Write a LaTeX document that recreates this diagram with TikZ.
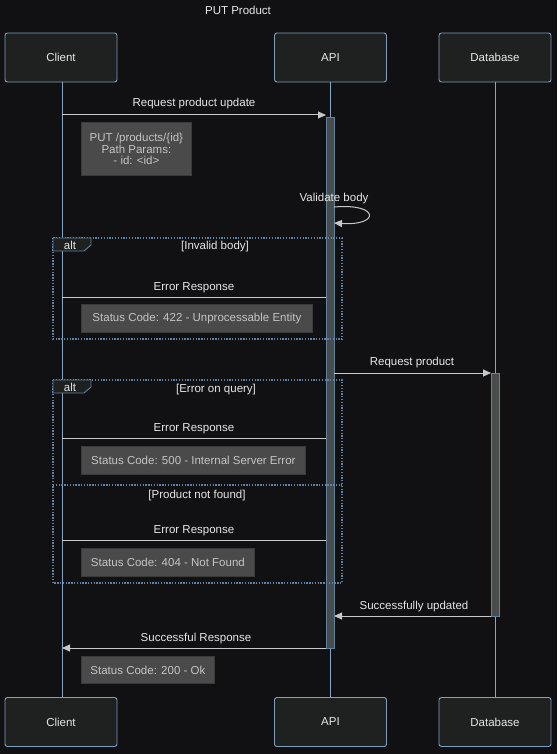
\documentclass[tikz,border=0pt]{standalone}
\usepackage{fontspec}
\setmainfont{Liberation Sans}
\usetikzlibrary{arrows.meta}
\definecolor{bg}{HTML}{111113}
\definecolor{actorfill}{HTML}{1F2020}
\definecolor{actorline}{HTML}{7F9FBF}
\definecolor{lifeline}{HTML}{86A6C6}
\definecolor{framecol}{HTML}{5F83A5}
\definecolor{actfill}{HTML}{4A4B4B}
\definecolor{notefill}{HTML}{4A4A4A}
\definecolor{noteline}{HTML}{3A3A3A}
\definecolor{notetext}{HTML}{C4C4C4}
\definecolor{msgcol}{HTML}{C8C8C8}
\definecolor{txt}{HTML}{E6E6E6}
\begin{document}
\begin{tikzpicture}[x=1pt,y=-1pt,
  every node/.style={font=\fontsize{11.5}{13.5}\selectfont, text=txt},
  actor/.style={draw=actorline, fill=actorfill, rounded corners=2.5pt, line width=0.9pt,
    minimum width=112pt, minimum height=49pt, inner sep=0pt},
  life/.style={draw=lifeline, line width=0.9pt},
  actbar/.style={draw=framecol, fill=actfill, line width=0.8pt},
  msg/.style={draw=msgcol, line width=1pt, -{Triangle[length=8pt,width=7pt]}},
  reply/.style={draw=msgcol, line width=1pt},
  msglabel/.style={inner sep=0pt, anchor=base},
  note/.style={draw=noteline, fill=notefill, line width=0.8pt, text=notetext, align=center,
    inner sep=0pt, anchor=north west},
  frame/.style={draw=framecol, line width=1.1pt, dash pattern=on 1.3pt off 1.5pt},
  guard/.style={inner sep=0pt, anchor=base},
  alttag/.style={draw=framecol, fill=actorfill, line width=0.9pt}
]
\useasboundingbox[fill=bg] (0,0) rectangle (557,754);

% title
\node[msglabel] (title) at (238,15) {PUT Product};

% participants, top and bottom
\node[actor] (clientTop) at (61,57.5) {Client};
\node[actor] (apiTop)    at (330.5,57.5) {API};
\node[actor] (dbTop)     at (495,57.5) {Database};
\node[actor] (clientBot) at (61,722) {Client};
\node[actor] (apiBot)    at (330.5,722) {API};
\node[actor] (dbBot)     at (495,722) {Database};

% lifelines
\draw[life] (clientTop.south -| 62,0) -- (clientBot.north -| 62,0);
\draw[life] (apiTop.south) -- (apiBot.north);
\draw[life] (dbTop.south) -- (dbBot.north);

% activations
\node[actbar, minimum width=8pt, minimum height=531pt, inner sep=0pt, anchor=north] (apiAct) at (330.5,117) {};
\node[actbar, minimum width=8pt, minimum height=243pt, inner sep=0pt, anchor=north] (dbAct) at (495,373) {};

% message end points
\coordinate (c1) at (62,115);   \coordinate (a1) at (326,115);
\coordinate (a2) at (334,373);  \coordinate (d2) at (491,373);
\coordinate (d3) at (491,616);  \coordinate (a3) at (334,616);
\coordinate (a4) at (326,648);  \coordinate (c4) at (62,648);
\coordinate (e1a) at (326,297); \coordinate (e1c) at (62,297);
\coordinate (e2a) at (326,438); \coordinate (e2c) at (62,438);
\coordinate (e3a) at (326,540); \coordinate (e3c) at (62,540);
\coordinate (v1) at (334,207);  \coordinate (v2) at (334,223);

% Request product update
\node[msglabel] (l1) at (194,107) {Request product update};
\draw[msg] (c1) -- (a1);
\node[note, minimum width=110pt, minimum height=53pt] (n1) at (81,122)
  {PUT /products/\{id\}\\[-2pt]Path Params:\\[-2pt]- id: <id>};

% Validate body (self call)
\node[msglabel] (l2) at (334,201) {Validate body};
\draw[msg] (v1) .. controls (380,203) and (380,226) .. (v2);

% alt: invalid body
\draw[frame] (53,238) rectangle (342,339);
\draw[alttag] (53,238) -- (91,238) -- (91,245) -- (84,251) -- (53,251) -- cycle;
\node[guard] (alt1) at (70,249) {alt};
\node[guard] (g1) at (215,249) {[Invalid body]};
\node[msglabel] (l3) at (194,290) {Error Response};
\draw[reply] (e1a) -- (e1c);
\node[note, minimum width=231pt, minimum height=28pt] (n2) at (81,304)
  {Status Code: 422 - Unprocessable Entity};

% Request product
\node[msglabel] (l4) at (412,365) {Request product};
\draw[msg] (a2) -- (d2);

% alt: query errors
\draw[frame] (53,380) rectangle (342,583);
\draw[frame] (53,485) -- (342,485);
\draw[alttag] (53,380) -- (91,380) -- (91,387) -- (84,393) -- (53,393) -- cycle;
\node[guard] (alt2) at (70,391) {alt};
\node[guard] (g2) at (216,392) {[Error on query]};
\node[msglabel] (l5) at (194,431) {Error Response};
\draw[reply] (e2a) -- (e2c);
\node[note, minimum width=224pt, minimum height=28pt] (n3) at (81,446)
  {Status Code: 500 - Internal Server Error};
\node[guard] (g3) at (197,498) {[Product not found]};
\node[msglabel] (l6) at (194,533) {Error Response};
\draw[reply] (e3a) -- (e3c);
\node[note, minimum width=173pt, minimum height=28pt] (n4) at (81,548)
  {Status Code: 404 - Not Found};

% Successfully updated
\node[msglabel] (l7) at (414,609) {Successfully updated};
\draw[msg] (d3) -- (a3);

% Successful Response
\node[msglabel] (l8) at (196,641) {Successful Response};
\draw[msg] (a4) -- (c4);
\node[note, minimum width=133pt, minimum height=27pt] (n5) at (81,656)
  {Status Code: 200 - Ok};
\end{tikzpicture}
\end{document}
